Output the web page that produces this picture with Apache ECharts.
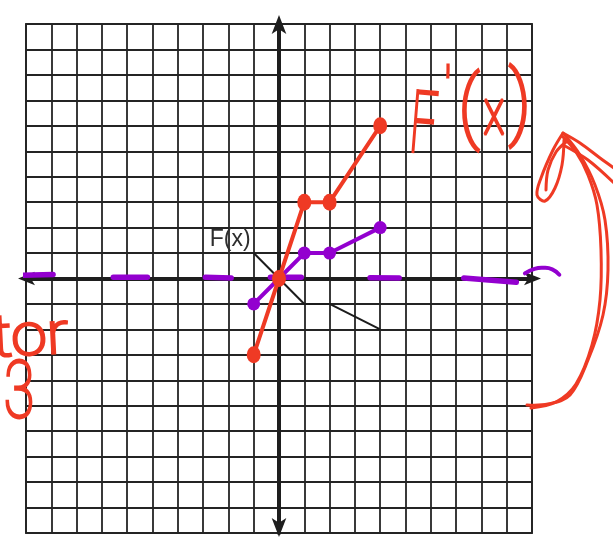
<!DOCTYPE html>
<html>
<head>
<meta charset="utf-8">
<script src="https://cdn.jsdelivr.net/npm/echarts@6/dist/echarts.min.js"></script>
<style>
  html, body { margin: 0; padding: 0; background: #ffffff; }
  #chart { width: 613px; height: 549px; }
</style>
</head>
<body>
<div id="chart"></div>
<script>
// Points where the piecewise functions change direction
const xs = [-1, 0, 1, 2, 4];
// F(x), its reflection over the x-axis, and the reflection stretched by 3
const fValues = [1, 0, -1, -1, -2];
const reflectValues = [-1, 0, 1, 1, 2];
const stretchValues = [-3, 0, 3, 3, 6];

// Hand-drawn mirror line along y = 0: [xStart, yStart, xEnd, yEnd]
const mirrorDashes = [
  [-10.24, 0.12, -8.93, 0.16],
  [-6.55, 0.05, -5.2, 0.05],
  [-2.91, 0.05, -1.89, 0.02],
  [-0.34, 0.05, 0.88, 0.05],
  [3.6, 0.03, 4.75, 0.02],
  [7.3, 0.02, 9.38, -0.15]
];
// little hook drawn past the end of the x-axis
const mirrorArc = [[9.72, 0.2], [10.1, 0.38], [10.45, 0.42], [10.8, 0.36], [11.08, 0.15]];

const RED = '#ef3a24';
const PURPLE = '#9300cf';
const INK = '#242424';

const pair = (vals) => xs.map((x, i) => [x, vals[i]]);

const chart = echarts.init(document.getElementById('chart'), null, { renderer: 'canvas' });

const axisCommon = {
  type: 'value',
  min: -10,
  max: 10,
  interval: 1,
  axisLabel: { show: false },
  axisTick: { show: false },
  splitLine: { show: true, lineStyle: { color: INK, width: 1.8 } }
};

const dashSeries = mirrorDashes.map((d) => ({
  type: 'line',
  data: [[d[0], d[1]], [d[2], d[3]]],
  symbol: 'none',
  silent: true,
  z: 4,
  lineStyle: { color: PURPLE, width: 5.5, cap: 'round' }
}));

chart.setOption({
  backgroundColor: '#ffffff',
  animation: false,
  grid: {
    left: 26, right: 81, top: 24, bottom: 16,
    show: true, borderColor: INK, borderWidth: 1.8
  },
  xAxis: Object.assign({}, axisCommon, {
    axisLine: {
      show: true, onZero: true,
      symbol: ['arrow', 'arrow'], symbolSize: [10, 17], symbolOffset: [-8, 9],
      lineStyle: { color: '#1e1e1e', width: 4 }
    }
  }),
  yAxis: Object.assign({}, axisCommon, {
    axisLine: {
      show: true, onZero: true,
      symbol: ['arrow', 'arrow'], symbolSize: [11, 19], symbolOffset: [-4, 9],
      lineStyle: { color: '#1e1e1e', width: 4 }
    }
  }),
  series: [
    {
      name: 'F(x)',
      type: 'line',
      data: pair(fValues).map((p, i) => i === 0 ? {
        value: p,
        label: {
          show: true, formatter: 'F(x)', position: [-44, -25],
          color: '#2e2e2e', fontSize: 23, fontFamily: 'Liberation Sans',
          backgroundColor: 'transparent'
        }
      } : p),
      symbol: 'circle',
      symbolSize: 0,
      showSymbol: true,
      z: 3,
      itemStyle: { color: '#1c1c1c' },
      lineStyle: { color: '#1c1c1c', width: 2 }
    },
    ...dashSeries,
    {
      name: '-F(x)',
      type: 'line',
      data: pair(reflectValues),
      symbol: 'circle',
      symbolSize: 13,
      showSymbol: true,
      z: 5,
      itemStyle: { color: PURPLE },
      lineStyle: { color: PURPLE, width: 4 }
    },
    {
      name: "F'(x)",
      type: 'line',
      data: pair(stretchValues),
      symbol: 'circle',
      symbolSize: [14, 17],
      showSymbol: true,
      z: 6,
      itemStyle: { color: RED },
      lineStyle: { color: RED, width: 4 }
    }
  ]
});

// Hook past the axis end is drawn in pixels converted from its data values
const arcPixels = mirrorArc.map((p) => chart.convertToPixel({ gridIndex: 0 }, p));

const penStroke = (points) => ({
  type: 'polyline', z: 10,
  shape: { smooth: 0.35, points: points },
  style: { stroke: RED, lineWidth: 3, fill: null, lineCap: 'round', lineJoin: 'round' }
});
const penText = (text, x, y, size, scaleX, rotation, align) => ({
  type: 'text', x: x, y: y, scaleX: scaleX, rotation: rotation || 0, z: 10,
  style: {
    text: text, fill: RED, font: '100 ' + size + 'px Roboto',
    align: align || 'center', verticalAlign: 'middle', stroke: RED, lineWidth: 3
  }
});

chart.setOption({
  graphic: {
    elements: [
      {
        type: 'polyline', z: 10,
        shape: { smooth: 0.5, points: arcPixels },
        style: { stroke: PURPLE, lineWidth: 4, fill: null, lineCap: 'round' }
      },
      // handwritten F'(x)
      penText('F', 423, 131, 86, 0.55, -0.08),
      penText("'", 448, 95, 60, 0.7),
      penText('(', 469, 113, 80, 0.9),
      penText('x', 494, 118, 64, 0.7),
      penText(')', 520, 108, 82, 0.9),
      // note on the left margin
      penText('factor', 68, 338, 58, 1.1, 0.05, 'right'),
      penText('3', 19, 397, 80, 0.7),
      // curved arrow showing the vertical stretch
      penStroke([[527, 405], [548, 404], [570, 395], [588, 360], [603, 315], [608, 270], [605, 220], [595, 185], [580, 155], [564, 134]]),
      penStroke([[531, 408], [556, 402], [576, 384], [592, 345], [600, 300], [601, 250], [597, 205], [588, 175], [576, 152], [562, 136]]),
      penStroke([[563, 133], [553, 150], [541, 178], [537, 195], [545, 201], [555, 188], [562, 165], [564, 140]]),
      penStroke([[566, 142], [556, 152], [548, 170], [546, 190]]),
      penStroke([[563, 133], [580, 143], [600, 158], [614, 168]]),
      penStroke([[565, 146], [588, 160], [614, 183]])
    ]
  }
});
</script>
</body>
</html>
